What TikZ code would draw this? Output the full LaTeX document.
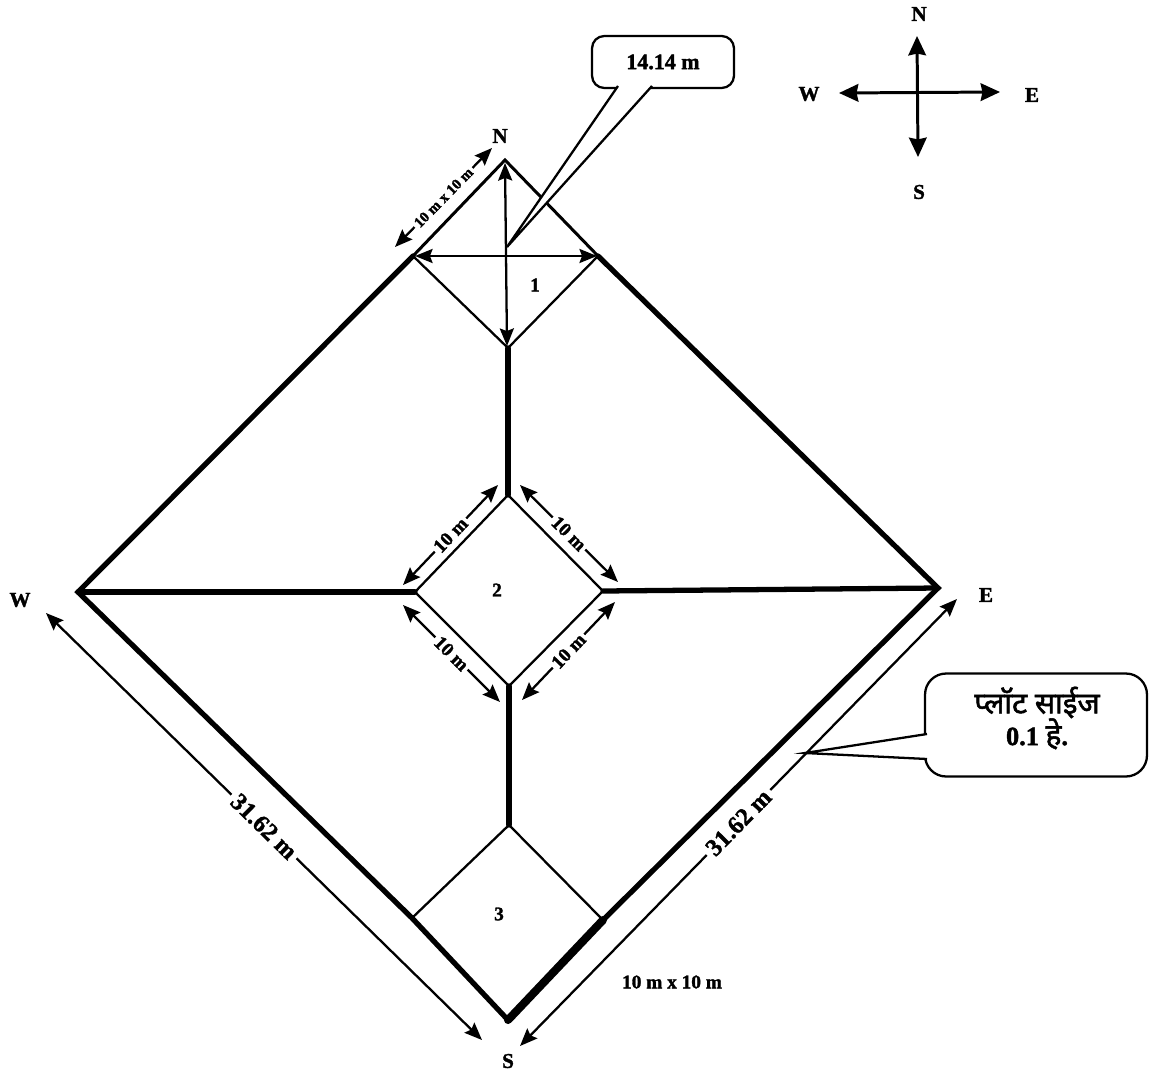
\documentclass[tikz,border=0pt]{standalone}
\usepackage{fontspec}
\setmainfont[BoldFeatures={FakeBold=1.6}]{Liberation Serif}
\newfontfamily\hindifont[Script=Devanagari,FakeBold=1.8]{Noto Sans}
\usetikzlibrary{arrows.meta, positioning, calc}
\tikzset{
    thinline/.style={
        draw=black,
        line width=1.3pt
    },
    midline/.style={
        draw=black,
        line width=1.7pt
    },
    plotline/.style={
        draw=black,
        line width=3pt,
        line cap=round
    },
    heavyline/.style={
        draw=black,
        line width=4.6pt,
        line cap=round
    },
    dimarrow/.style={
        draw=black,
        line width=1.3pt,
        {Stealth[length=10pt,width=8pt,inset=1.5pt]}-{Stealth[length=10pt,width=8pt,inset=1.5pt]}
    },
    compassarrow/.style={
        draw=black,
        line width=1.7pt,
        {Stealth[length=11pt,width=10pt,inset=1pt]}-{Stealth[length=11pt,width=10pt,inset=1pt]}
    },
    dimlabel/.style={
        font=\bfseries\fontsize{11}{12}\selectfont,
        fill=white,
        inner sep=1.5pt,
        sloped
    },
    longlabel/.style={
        font=\bfseries\fontsize{14}{15}\selectfont,
        fill=white,
        inner sep=2.5pt,
        sloped
    },
    tinylabel/.style={
        font=\bfseries\fontsize{8.5}{9}\selectfont,
        fill=white,
        inner sep=1.5pt,
        sloped
    },
    pointlabel/.style={
        font=\bfseries\fontsize{12}{13}\selectfont,
        inner sep=0pt
    },
    plotno/.style={
        font=\bfseries\fontsize{11}{12}\selectfont,
        inner sep=0pt
    },
    notebox/.style={
        rectangle,
        draw=black,
        line width=1.3pt,
        rounded corners=7pt,
        fill=white,
        inner sep=0pt
    },
    notetail/.style={
        draw=black,
        line width=1.3pt,
        fill=white
    }
}
\begin{document}
\begin{tikzpicture}[x=0.02cm,y=-0.02cm]
\useasboundingbox (0,0) rectangle (1151,1071);

% Field corners
\coordinate (n) at (505,160);
\coordinate (w) at (78,592);
\coordinate (s) at (508,1020);
\coordinate (e) at (938,588);

% Plot corners
\coordinate (pa) at (413,256);
\coordinate (pb) at (598,256);
\coordinate (pc) at (508,348);
\coordinate (qa) at (508,495);
\coordinate (qb) at (415,592);
\coordinate (qc) at (603,591);
\coordinate (qd) at (509,686);
\coordinate (ra) at (509,825);
\coordinate (rb) at (412,918);
\coordinate (rc) at (603,920);

% Field outline
\draw[plotline] (pa) -- (w) -- (rb) -- (s);
\draw[plotline] (pb) -- (e) -- (rc);
\draw[heavyline] (rc) -- (s);
\draw[midline] (pa) -- (n) -- (pb);

% Inner lines
\draw[plotline] (pc) -- (qa);
\draw[plotline] (w) -- (qb);
\draw[plotline] (qc) -- (e);
\draw[plotline] (qd) -- (ra);

% Plots
\draw[thinline] (pa) -- (pc) -- (pb);
\draw[thinline] (qa) -- (qc) -- (qd) -- (qb) -- cycle;
\draw[thinline] (rb) -- (ra) -- (rc);

% Plot numbers
\node[plotno] (one) at (535,285) {1};
\node[plotno] (two) at (497,590) {2};
\node[plotno] (three) at (499,914) {3};

% Field labels
\node[pointlabel] (north) at (500,136) {N};
\node[pointlabel] (west) at (20,600) {W};
\node[pointlabel] (east) at (986,595) {E};
\node[pointlabel] (south) at (508,1061) {S};
\node[plotno] (size) at (672,982) {10 m x 10 m};

% Dimension arrows
\coordinate (da) at (395,247);
\coordinate (db) at (492,148);
\draw[dimarrow] (da) -- node[tinylabel] {10 m x 10 m} (db);
\draw[dimarrow] (505,163) -- (507,346);
\draw[dimarrow] (415,256) -- (597,256);

\draw[dimarrow] (403,585) -- node[dimlabel] {10 m} (498,485);
\draw[dimarrow] (520,485) -- node[dimlabel] {10 m} (618,582);
\draw[dimarrow] (403,605) -- node[dimlabel] {10 m} (500,702);
\draw[dimarrow] (522,700) -- node[dimlabel] {10 m} (615,602);

\draw[dimarrow] (46,613) -- node[longlabel] {31.62 m} (482,1040);
\draw[dimarrow] (520,1046) -- node[longlabel] {31.62 m} (957,599);

% Compass
\node[pointlabel] (cn) at (919,14) {N};
\node[pointlabel] (cs) at (919,192) {S};
\node[pointlabel] (cw) at (809,94) {W};
\node[pointlabel] (ce) at (1032,95) {E};
\coordinate (tn) at (917,36);
\coordinate (ts) at (918,157);
\coordinate (tw) at (839,93);
\coordinate (te) at (1000,92);
\draw[compassarrow] (tn) -- (ts);
\draw[compassarrow] (tw) -- (te);

% Callouts
\node[notebox, minimum width=2.84cm, minimum height=1.04cm, font=\bfseries\fontsize{12.5}{13}\selectfont] (lenbox) at (663,62) {14.14 m};
\coordinate (lentip) at (507,247);
\draw[notetail] (618,86) -- (lentip) -- (652,86);

\node[notebox, minimum width=4.44cm, minimum height=2.06cm, rounded corners=12pt] (sizebox) at (1036,725) {};
\node[align=center, inner sep=0pt, font=\bfseries\fontsize{15}{18}\selectfont] (sizetext) at (1037,718) {{\hindifont\fontsize{17}{18}\selectfont प्लॉट साईज}\\0.1 {\hindifont\fontsize{17}{18}\selectfont हे}.};
\coordinate (sizetip) at (805,753);
\draw[notetail] (927,734) -- (sizetip) -- (927,759);
\end{tikzpicture}
\end{document}
